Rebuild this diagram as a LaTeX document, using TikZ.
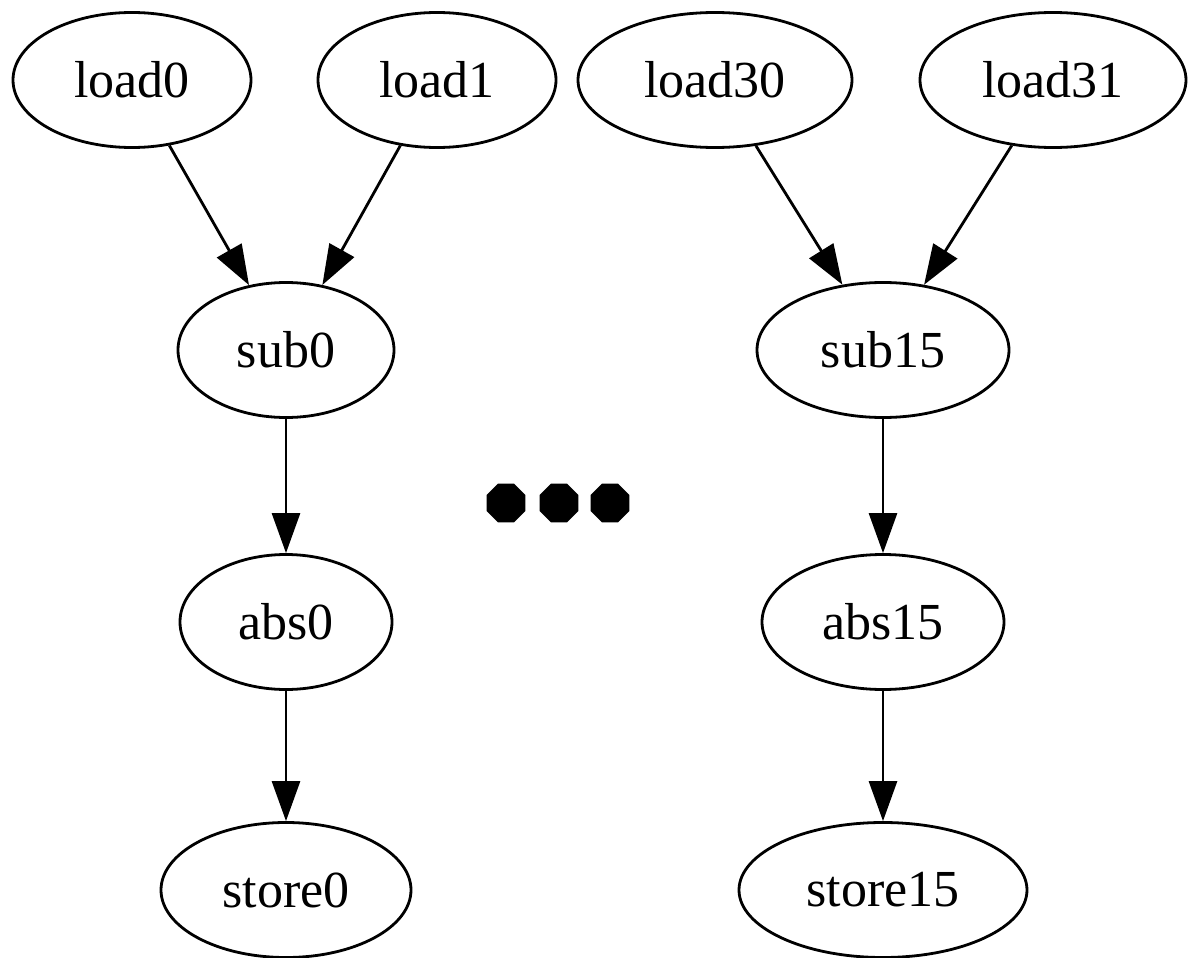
\documentclass[tikz,border=0pt]{standalone}
\usepackage{fontspec}
\setmainfont{Liberation Serif}
\usetikzlibrary{shapes.geometric,arrows.meta}
\begin{document}
\begin{tikzpicture}[x=0.5pt,y=-0.5pt,
  op/.style={ellipse,draw,line width=1.4pt,inner sep=0pt,minimum height=67.5pt,font=\fontsize{26}{30}\selectfont},
  dep/.style={draw,line width=1.4pt,-{Triangle[length=20pt,width=14pt]}},
  dot/.style={regular polygon,regular polygon sides=8,fill=black,inner sep=0pt,minimum size=21pt}]
\useasboundingbox (0,0) rectangle (1195,958);
\node[op,minimum width=119pt] (load0) at (132,80) {load0};
\node[op,minimum width=119pt] (load1) at (437,80) {load1};
\node[op,minimum width=137pt] (load30) at (715,80) {load30};
\node[op,minimum width=133pt] (load31) at (1053,80) {load31};
\node[op,minimum width=108pt] (sub0) at (286,350) {sub0};
\node[op,minimum width=126pt] (sub15) at (883,350) {sub15};
\node[op,minimum width=106pt] (abs0) at (286,622) {abs0};
\node[op,minimum width=121pt] (abs15) at (883,622) {abs15};
\node[op,minimum width=125pt] (store0) at (286,890) {store0};
\node[op,minimum width=144pt] (store15) at (883,890) {store15};
\node[dot] (d1) at (506,503) {};
\node[dot] (d2) at (559,503) {};
\node[dot] (d3) at (610,503) {};
\draw[dep] (load0) -- (sub0);
\draw[dep] (load1) -- (sub0);
\draw[dep] (load30) -- (sub15);
\draw[dep] (load31) -- (sub15);
\draw[dep] (sub0) -- (abs0);
\draw[dep] (abs0) -- (store0);
\draw[dep] (sub15) -- (abs15);
\draw[dep] (abs15) -- (store15);
\end{tikzpicture}
\end{document}
